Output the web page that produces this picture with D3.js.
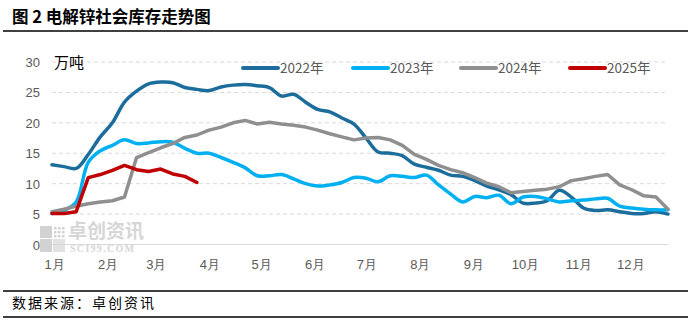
<!DOCTYPE html>
<html>
<head>
<meta charset="utf-8">
<script src="https://cdn.jsdelivr.net/npm/d3@7"></script>
<style>
  body { margin: 0; background: #fff; }
  svg { display: block; font-family: "Noto Sans CJK SC", "DejaVu Sans", sans-serif; }
  .axis text { fill: #595959; font-size: 13px; }
  .axis path, .axis line { stroke: none; }
</style>
</head>
<body>
<div id="chart"></div>
<script>
const width = 691, height = 324;
const margin = { left: 52, right: 23, top: 62, bottom: 80 };

// data (weekly, 52 points per year)
const seriesNames = ["2022年", "2023年", "2024年", "2025年"];
const colors = ["#1c6d9c", "#00b0f0", "#8f8f8f", "#c00000"];
const monthLabels = ["1月", "2月", "3月", "4月", "5月", "6月", "7月", "8月", "9月", "10月", "11月", "12月"];
const yTicks = [0, 5, 10, 15, 20, 25, 30];

const v2022 = [13.1, 12.8, 12.5, 14.8, 17.7, 20.0, 23.4, 25.2, 26.4, 26.7, 26.6, 25.8, 25.5, 25.3, 25.9, 26.2,
  26.3, 26.1, 25.8, 24.4, 24.7, 23.4, 22.2, 21.8, 20.8, 19.8, 17.5, 15.2, 15.0, 14.6, 13.2, 12.7, 12.2, 11.4,
  11.2, 10.5, 9.6, 9.0, 8.2, 6.8, 6.8, 7.2, 8.9, 7.8, 6.0, 5.6, 5.7, 5.4, 5.1, 5.1, 5.4, 5.0];
const v2023 = [5.1, 5.6, 7.0, 13.5, 15.4, 16.3, 17.2, 16.6, 16.7, 16.9, 16.8, 15.8, 15.0, 15.0, 14.3, 13.5,
  12.6, 11.3, 11.3, 11.5, 10.8, 10.0, 9.6, 9.8, 10.2, 11.0, 10.9, 10.3, 11.3, 11.2, 11.0, 11.4, 9.8, 8.3,
  7.0, 7.9, 7.7, 8.1, 6.7, 7.8, 7.9, 7.5, 7.0, 7.2, 7.3, 7.5, 7.6, 6.3, 6.0, 5.8, 5.7, 5.7];
const v2024 = [5.4, 5.8, 6.3, 6.7, 7.0, 7.2, 7.8, 14.3, 15.1, 15.9, 16.6, 17.6, 18.0, 18.8, 19.3, 20.0,
  20.4, 19.8, 20.1, 19.8, 19.6, 19.3, 18.8, 18.2, 17.7, 17.2, 17.5, 17.6, 17.2, 16.3, 14.8, 14.0, 13.0, 12.3,
  11.8, 11.0, 10.1, 9.5, 8.5, 8.7, 8.9, 9.1, 9.5, 10.5, 10.8, 11.2, 11.5, 9.8, 9.0, 8.0, 7.8, 5.8];
const v2025 = [5.1, 5.1, 5.4, 11.0, 11.5, 12.2, 13.0, 12.3, 12.0, 12.4, 11.6, 11.2, 10.2];

const seriesValues = [v2022, v2023, v2024, v2025];
const smoothed = [true, true, false, false];

const weekDate = i => d3.timeDay.offset(new Date(2022, 0, 1), 7 * i);

const svg = d3.select("#chart")
    .append("svg")
    .attr("width", width)
    .attr("height", height);

// title and rules
svg.append("text")
    .attr("x", 12)
    .attr("y", 23)
    .attr("font-size", "16.5px")
    .attr("font-weight", "bold")
    .attr("fill", "#000")
    .text("图 2  电解锌社会库存走势图");

[31, 291, 317].forEach(y => {
    svg.append("line")
        .attr("x1", 3).attr("x2", 688)
        .attr("y1", y).attr("y2", y)
        .attr("stroke", "#000")
        .attr("stroke-width", 1.3);
});

svg.append("text")
    .attr("x", 12)
    .attr("y", 308)
    .attr("font-size", "14px")
    .attr("letter-spacing", "2px")
    .attr("fill", "#000")
    .text("数据来源：卓创资讯");

// scales
const x = d3.scaleTime()
    .domain([weekDate(0), weekDate(51)])
    .range([margin.left, width - margin.right]);

const y = d3.scaleLinear()
    .domain([0, 30])
    .range([244.5, 62]);

// watermark
const wm = svg.append("g").attr("fill", "#d2d2d2");
wm.append("rect").attr("x", 40).attr("y", 226).attr("width", 12).attr("height", 12);
wm.append("rect").attr("x", 40).attr("y", 239).attr("width", 12).attr("height", 13);
wm.append("rect").attr("x", 53).attr("y", 239).attr("width", 12).attr("height", 13).attr("fill", "#e2e2e2");
for (let r = 0; r < 3; r++) {
    for (let c = 0; c < 3; c++) {
        wm.append("rect")
            .attr("x", 54 + c * 4).attr("y", 227 + r * 4)
            .attr("width", 2.5).attr("height", 2.5);
    }
}
wm.append("text")
    .attr("x", 68).attr("y", 237.5)
    .attr("font-size", "19px")
    .attr("font-weight", "bold")
    .attr("fill", "#d6d6d6")
    .text("卓创资讯");
wm.append("text")
    .attr("x", 70).attr("y", 251.5)
    .attr("font-size", "10px")
    .attr("font-family", "Liberation Serif, serif")
    .attr("font-weight", "bold")
    .attr("letter-spacing", "1.3px")
    .attr("fill", "#d6d6d6")
    .text("SCI99.COM");

// gridlines
svg.append("g")
    .selectAll("line")
    .data(yTicks.filter(d => d > 0))
    .join("line")
    .attr("x1", margin.left)
    .attr("x2", width - margin.right)
    .attr("y1", d => y(d))
    .attr("y2", d => y(d))
    .attr("stroke", "#d9d9d9")
    .attr("stroke-dasharray", "4,3");

svg.append("line")
    .attr("x1", margin.left)
    .attr("x2", width - margin.right)
    .attr("y1", y(0))
    .attr("y2", y(0))
    .attr("stroke", "#d9d9d9");

// y-axis
svg.append("g")
    .attr("class", "axis")
    .attr("transform", `translate(${margin.left - 12},0)`)
    .call(d3.axisLeft(y).tickValues(yTicks).tickSize(0).tickPadding(0))
    .selectAll("text")
    .attr("dy", "0.35em");

svg.append("text")
    .attr("x", 54)
    .attr("y", 68)
    .attr("font-size", "15px")
    .attr("fill", "#000")
    .text("万吨");

// x-axis
const monthStarts = d3.timeMonth.range(new Date(2022, 0, 1), new Date(2023, 0, 1));
svg.append("g")
    .attr("class", "axis")
    .attr("transform", `translate(2,${y(0)})`)
    .call(d3.axisBottom(x).tickValues(monthStarts).tickFormat((d, i) => monthLabels[i]).tickSize(0).tickPadding(15));

// lines
seriesValues.forEach((vals, k) => {
    const line = d3.line()
        .x((d, i) => x(weekDate(i)))
        .y(d => y(d))
        .curve(smoothed[k] ? d3.curveCatmullRom.alpha(0.5) : d3.curveLinear);

    svg.append("path")
        .datum(vals)
        .attr("fill", "none")
        .attr("stroke", colors[k])
        .attr("stroke-width", 3.5)
        .attr("stroke-linejoin", "round")
        .attr("stroke-linecap", "round")
        .attr("d", line);
});

// legend
const legendX = [243, 353, 461, 570];
const legend = svg.append("g");

legend.selectAll("line")
    .data(seriesNames)
    .join("line")
    .attr("x1", (d, i) => legendX[i])
    .attr("x2", (d, i) => legendX[i] + 35)
    .attr("y1", 68)
    .attr("y2", 68)
    .attr("stroke", (d, i) => colors[i])
    .attr("stroke-width", 4)
    .attr("stroke-linecap", "round");

legend.selectAll("text")
    .data(seriesNames)
    .join("text")
    .attr("x", (d, i) => legendX[i] + 37)
    .attr("y", 73)
    .attr("font-size", "13.5px")
    .attr("fill", "#595959")
    .text(d => d);
</script>
</body>
</html>
